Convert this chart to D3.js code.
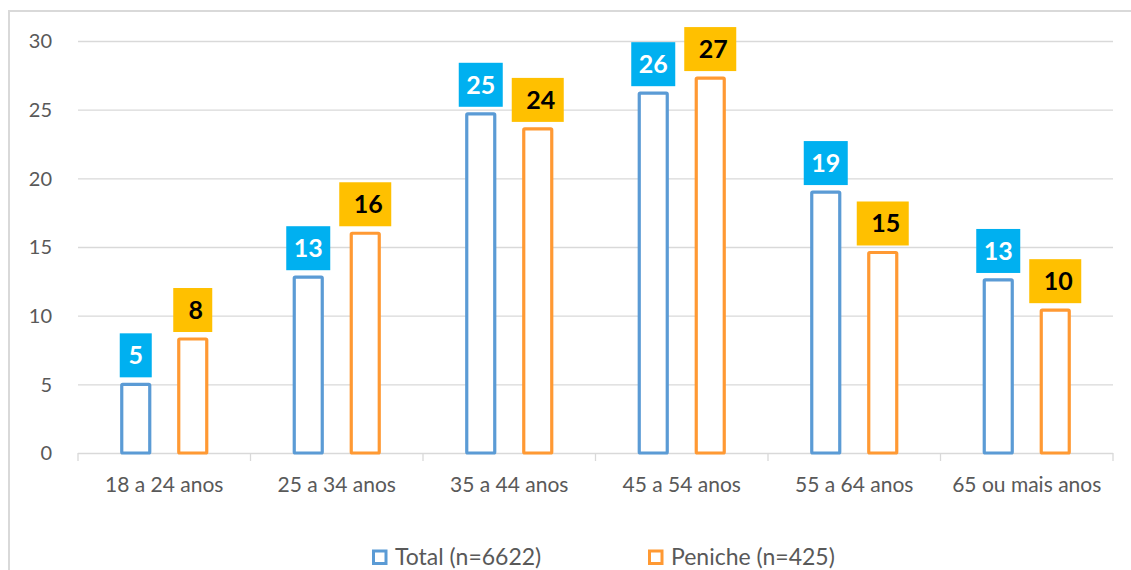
<!DOCTYPE html>
<meta charset="utf-8">
<head>
  <title>Idades</title>
  <script src="https://d3js.org/d3.v7.min.js"></script>
  <style>
    body { margin: 0; background: #fff; }
    text { font-family: Lato, "Open Sans", sans-serif; }
  </style>
</head>
<body>
<div id="display"></div>
<script>

var categories = ["18 a 24 anos", "25 a 34 anos", "35 a 44 anos", "45 a 54 anos", "55 a 64 anos", "65 ou mais anos"];
var totalValues = [5.0, 12.8, 24.7, 26.2, 19.0, 12.6];
var penicheValues = [8.3, 16.0, 23.6, 27.3, 14.6, 10.4];
var yTicks = [0, 5, 10, 15, 20, 25, 30];
var seriesNames = ["Total (n=6622)", "Peniche (n=425)"];

var W = 1131, H = 570;
var margin = {top: 41, left: 78, right: 18, bottom: 117};
var width = W - margin.left - margin.right,
    height = H - margin.top - margin.bottom;

var svg = d3.select("#display")
  .append("svg")
    .attr("width", W)
    .attr("height", H);

// outer chart frame
svg.append("rect")
  .attr("x", 9).attr("y", 11)
  .attr("width", W + 20).attr("height", H + 20)
  .attr("fill", "none")
  .attr("stroke", "#d9d9d9")
  .attr("stroke-width", 2);

var g = svg.append("g")
  .attr("transform", "translate(" + margin.left + "," + margin.top + ")");

var x = d3.scaleBand()
  .domain(categories)
  .range([0, width]);

var y = d3.scaleLinear()
  .domain([0, 30])
  .range([height, 0]);

// gridlines
g.selectAll(".grid")
  .data(yTicks.filter(function(d) { return d > 0; }))
  .enter().append("line")
    .attr("x1", 0).attr("x2", width)
    .attr("y1", function(d) { return y(d) + 0.5; })
    .attr("y2", function(d) { return y(d) + 0.5; })
    .attr("stroke", "#d9d9d9")
    .attr("stroke-width", 1.3);

// y axis labels
g.selectAll(".ylab")
  .data(yTicks)
  .enter().append("text")
    .attr("x", -26)
    .attr("y", function(d) { return y(d); })
    .attr("dy", "0.36em")
    .attr("text-anchor", "end")
    .attr("fill", "#595959")
    .style("font-size", "20px")
    .text(function(d) { return d; });

// x axis
var xAxis = g.append("g")
  .attr("transform", "translate(0," + height + ")");
xAxis.append("line")
  .attr("x1", 0).attr("x2", width)
  .attr("y1", 0.5).attr("y2", 0.5)
  .attr("stroke", "#d9d9d9").attr("stroke-width", 1.3);
xAxis.selectAll(".tick")
  .data(d3.range(categories.length + 1))
  .enter().append("line")
    .attr("x1", function(i) { return i * x.bandwidth(); })
    .attr("x2", function(i) { return i * x.bandwidth(); })
    .attr("y1", 0).attr("y2", 8)
    .attr("stroke", "#d9d9d9").attr("stroke-width", 1.3);
xAxis.selectAll(".xlab")
  .data(categories)
  .enter().append("text")
    .attr("x", function(d) { return x(d) + x.bandwidth() / 2; })
    .attr("y", 39)
    .attr("text-anchor", "middle")
    .attr("fill", "#595959")
    .style("font-size", "21px")
    .text(function(d) { return d; });

var barW = 28, offset = 28.5;
var series = [
  {name: seriesNames[0], values: totalValues, stroke: "#5b9bd5", box: "#00b0f0", txt: "#ffffff", dx: -offset},
  {name: seriesNames[1], values: penicheValues, stroke: "#ff9933", box: "#ffc000", txt: "#000000", dx: offset}
];

function boxW(d, s) {
  return Math.round(d) >= 10 ? (s.dx > 0 ? 52 : 44) : (s.dx > 0 ? 39 : 32);
}

series.forEach(function(s) {
  var cx = function(i) { return x(categories[i]) + x.bandwidth() / 2 + s.dx; };

  g.selectAll(null)
    .data(s.values)
    .enter().append("rect")
      .attr("x", function(d, i) { return cx(i) - barW / 2; })
      .attr("y", function(d) { return y(d); })
      .attr("width", barW)
      .attr("height", function(d) { return y(0) - y(d); })
      .attr("fill", "#fff")
      .attr("stroke", s.stroke)
      .attr("stroke-width", 3.2)
      .attr("rx", 1);

  var lab = g.selectAll(null)
    .data(s.values)
    .enter().append("g")
      .attr("transform", function(d, i) { return "translate(" + cx(i) + "," + (y(d) - 7) + ")"; });

  lab.append("rect")
    .attr("x", function(d) { return -boxW(d, s) / 2; })
    .attr("y", -44)
    .attr("width", function(d) { return boxW(d, s); })
    .attr("height", 44)
    .attr("fill", s.box);

  lab.append("text")
    .attr("x", s.dx > 0 ? 3 : 0)
    .attr("y", -22)
    .attr("dy", "0.36em")
    .attr("text-anchor", "middle")
    .attr("fill", s.txt)
    .style("font-size", "25px")
    .style("font-weight", "bold")
    .text(function(d) { return Math.round(d); });
});

// legend
var legend = svg.append("g");
var legendX = [372, 648];
series.forEach(function(s, i) {
  legend.append("rect")
    .attr("x", legendX[i] + 1.5).attr("y", 551)
    .attr("width", 12.5).attr("height", 12.5)
    .attr("fill", "#fff")
    .attr("stroke", s.stroke)
    .attr("stroke-width", 3);
  legend.append("text")
    .attr("x", legendX[i] + 23)
    .attr("y", 565)
    .attr("fill", "#595959")
    .style("font-size", "23px")
    .text(s.name);
});

</script>
</body>
